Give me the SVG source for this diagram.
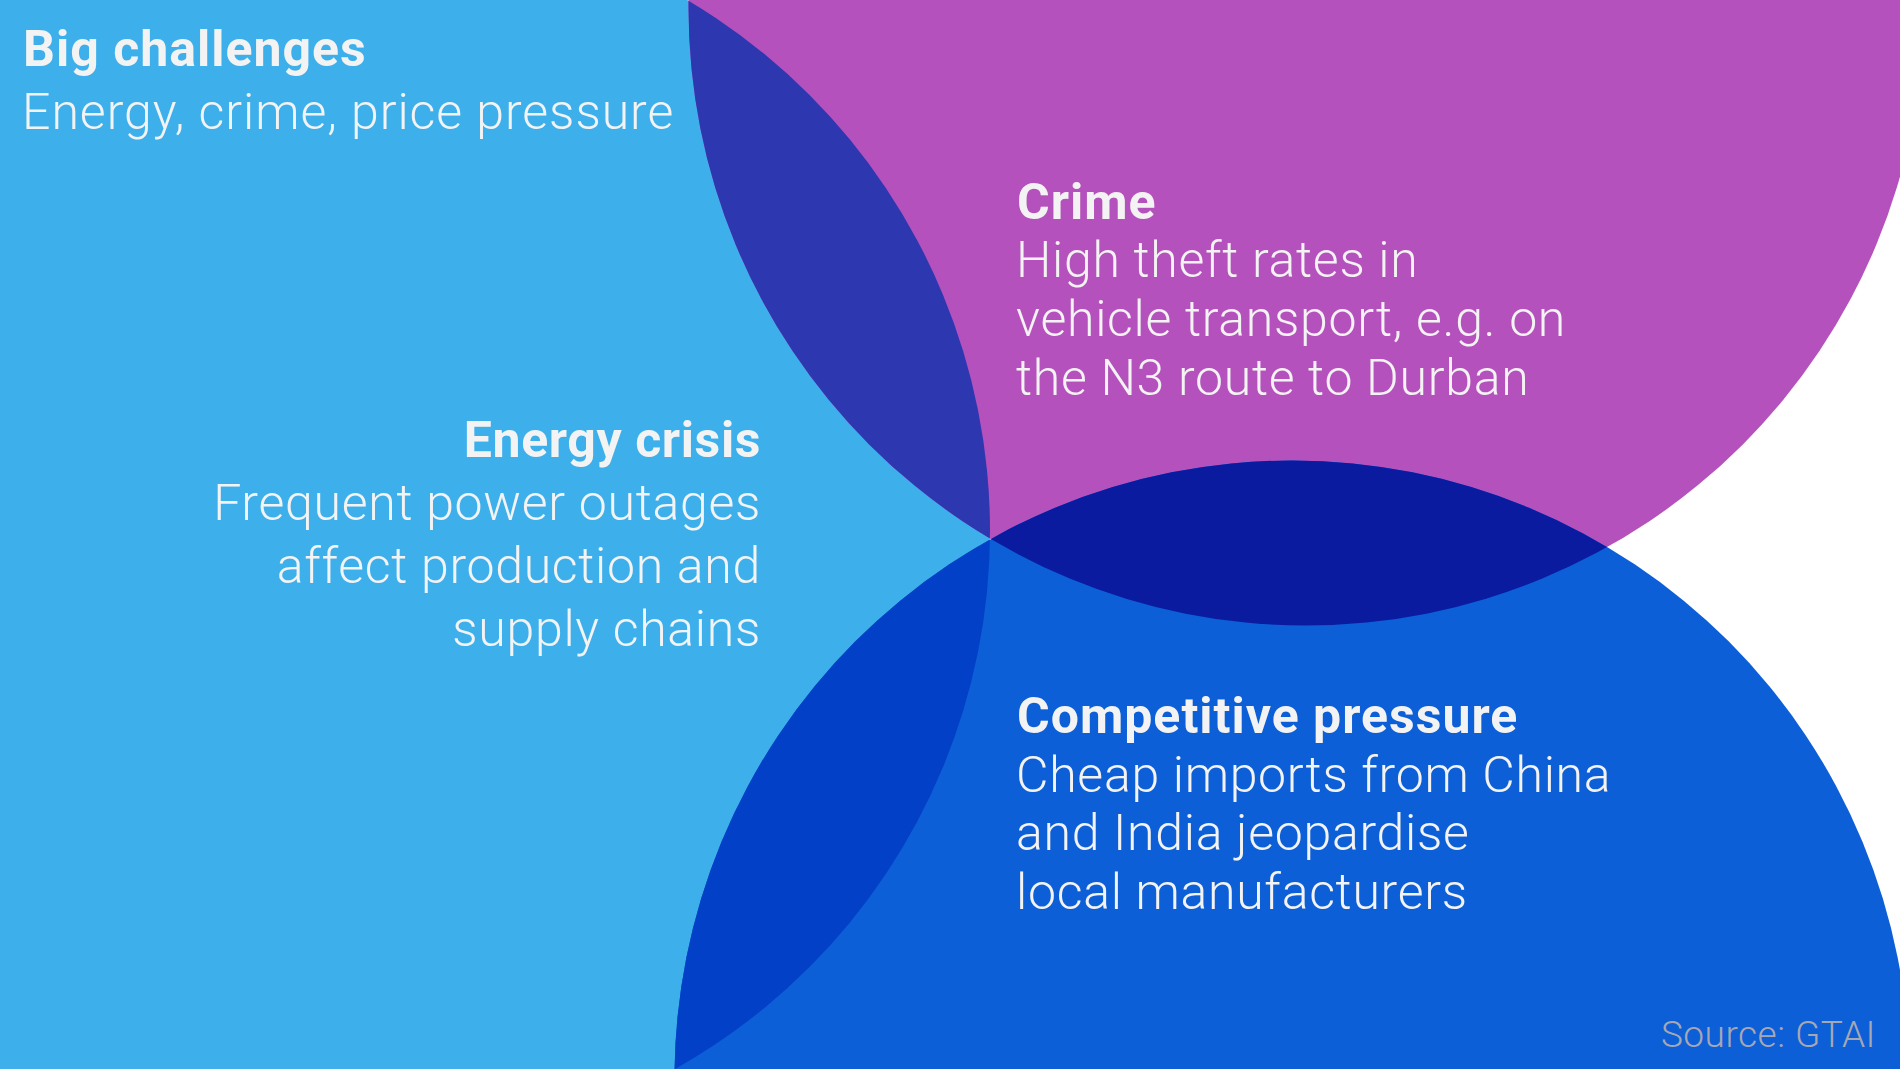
<svg xmlns="http://www.w3.org/2000/svg" width="1900" height="1069" viewBox="0 0 1900 1069">
<style>
.h{font-family:Roboto,"Liberation Sans",sans-serif;font-weight:700;font-size:50px;letter-spacing:1px;fill:#F3F3F3}
.b{font-family:Roboto,"Liberation Sans",sans-serif;font-weight:300;font-size:50px;letter-spacing:0.7px;fill:#F3F3F3}
.t{letter-spacing:0.95px}
.e{letter-spacing:0.6px}
.src{font-family:Roboto,"Liberation Sans",sans-serif;font-weight:300;font-size:37px;letter-spacing:0.5px;fill:#A7A7B4}
</style>
<defs>
<clipPath id="clipLB"><circle cx="373" cy="531" r="617"/></clipPath>
<clipPath id="clipMag"><circle cx="1306" cy="8" r="617.5"/></clipPath>
</defs>
<rect width="1900" height="1069" fill="#FFFFFF"/>
<g id="shapes">
<rect x="0" y="0" width="373" height="1069" fill="#3DB0EC"/>
<circle id="circle-energy" cx="373" cy="531" r="617" fill="#3DB0EC"/>
<circle id="circle-crime" cx="1306" cy="8" r="617.5" fill="#B551BC"/>
<circle id="circle-competition" cx="1292" cy="1078" r="617.5" fill="#0C5FD7"/>
<circle cx="1306" cy="8" r="617.5" fill="#2C37B0" clip-path="url(#clipLB)"/>
<circle cx="1292" cy="1078" r="617.5" fill="#0340C8" clip-path="url(#clipLB)"/>
<circle cx="1292" cy="1078" r="617.5" fill="#0A1BA0" clip-path="url(#clipMag)"/>
</g>
<g id="title">
<text class="h" x="23" y="66">Big challenges</text>
<text class="b t" x="22" y="129">Energy, crime, price pressure</text>
</g>
<g id="energy" text-anchor="end">
<text class="h e" x="761" y="457">Energy crisis</text>
<text class="b" x="761" y="520">Frequent power outages</text>
<text class="b" x="761" y="583">affect production and</text>
<text class="b" x="761" y="646">supply chains</text>
</g>
<g id="crime">
<text class="h" x="1017" y="219">Crime</text>
<text class="b" x="1016" y="277">High theft rates in</text>
<text class="b" x="1016" y="336">vehicle transport, e.g. on</text>
<text class="b" x="1016" y="395">the N3 route to Durban</text>
</g>
<g id="competition">
<text class="h" x="1017" y="733">Competitive pressure</text>
<text class="b" x="1016" y="792">Cheap imports from China</text>
<text class="b" x="1016" y="850">and India jeopardise</text>
<text class="b" x="1016" y="909">local manufacturers</text>
</g>
<text class="src" x="1876" y="1047" text-anchor="end">Source: GTAI</text>
</svg>
